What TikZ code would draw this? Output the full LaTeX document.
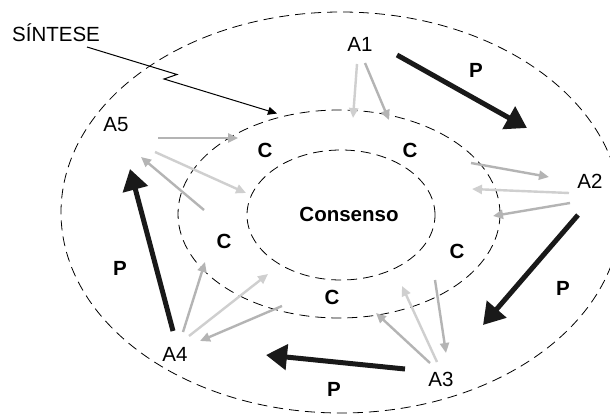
\documentclass[tikz,border=0pt]{standalone}
\usepackage{fontspec}
\setmainfont{Liberation Sans}
\usetikzlibrary{arrows.meta}
\definecolor{lgray}{HTML}{CFCFCF}
\definecolor{mgray}{HTML}{B4B4B4}
\begin{document}
\begin{tikzpicture}[x=1pt,y=-1pt,
  txt/.style={inner sep=0pt,font=\fontsize{20.5}{23}\selectfont},
  btxt/.style={inner sep=0pt,font=\fontsize{20.5}{23}\selectfont\bfseries},
  ring/.style={draw=black,line width=0.8pt,dash pattern=on 10pt off 6pt},
  parrow/.style={draw=black!90,line width=5pt,-{Triangle[length=21pt,width=25pt]}},
  carrowl/.style={draw=lgray,line width=2.4pt,-{Triangle[length=10pt,width=9pt]}},
  carrowm/.style={draw=mgray,line width=2.4pt,-{Triangle[length=10pt,width=9pt]}},
  sarrow/.style={draw=black,line width=1pt,-{Triangle[length=9pt,width=8pt]}}]
\useasboundingbox (0,0) rectangle (610,417);
\clip (0,0) rectangle (610,417);
\fill[white] (0,0) rectangle (610,417);

% rings
\draw[ring] (341,212.5) ellipse [x radius=280pt, y radius=200.5pt];
\draw[ring] (339,214) ellipse [x radius=161pt, y radius=104pt];
\draw[ring] (341,215) ellipse [x radius=94pt, y radius=65pt];

% labels
\node[txt] (sint) at (56,32.5) {SÍNTESE};
\node[txt] (a1) at (360,44.5) {A1};
\node[txt] (a2) at (590,181.5) {A2};
\node[txt] (a3) at (441,379.5) {A3};
\node[txt] (a4) at (175,354) {A4};
\node[txt] (a5) at (116,125) {A5};
\node[btxt] (cons) at (349,214.5) {Consenso};
\node[btxt] (c1) at (265,150) {C};
\node[btxt] (c2) at (410,150) {C};
\node[btxt] (c3) at (457,251) {C};
\node[btxt] (c4) at (332,297) {C};
\node[btxt] (c5) at (224,241) {C};
\node[btxt] (p1) at (476,70) {P};
\node[btxt] (p2) at (563,288) {P};
\node[btxt] (p3) at (334,389) {P};
\node[btxt] (p4) at (120,268) {P};

% big P arrows
\coordinate (p1s) at (397,55);  \coordinate (p1e) at (527,128);
\coordinate (p2s) at (578,215); \coordinate (p2e) at (483,325);
\coordinate (p3s) at (405,369); \coordinate (p3e) at (266,355);
\coordinate (p4s) at (173,331); \coordinate (p4e) at (130,169);
\draw[parrow] (p1s) -- (p1e);
\draw[parrow] (p2s) -- (p2e);
\draw[parrow] (p3s) -- (p3e);
\draw[parrow] (p4s) -- (p4e);

% A1 arrows
\draw[carrowl] (357,64) -- (353,118);
\draw[carrowm] (365,63) -- (389,120);
% A2 arrows
\draw[carrowm] (471,163) -- (549,177);
\draw[carrowl] (569,193) -- (472,189);
\draw[carrowm] (570,203) -- (493,216);
% A3 arrows
\draw[carrowm] (435,280) -- (446,353);
\draw[carrowl] (437,362) -- (402,286);
\draw[carrowm] (430,363) -- (376,313);
% A4 arrows
\draw[carrowm] (183,332) -- (205,262);
\draw[carrowl] (189,336) -- (268,274);
\draw[carrowm] (282,306) -- (200,341);
% A5 arrows
\draw[carrowm] (158,138) -- (238,138);
\draw[carrowl] (155,152) -- (246,193);
\draw[carrowm] (204,210) -- (141,157);

% SINTESE pointer
\coordinate (sz1) at (177,74.5);
\coordinate (sz2) at (164,79);
\coordinate (stip) at (277,113.5);
\draw[sarrow] (87,47) -- (sz1) -- (sz2) -- (stip);
\end{tikzpicture}
\end{document}
